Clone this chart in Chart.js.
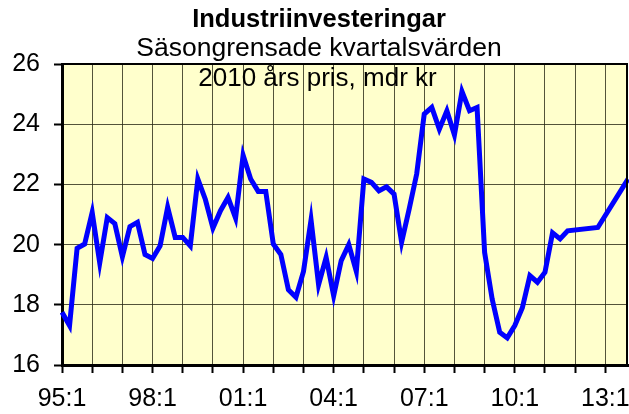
<!DOCTYPE html>
<html>
<head>
<meta charset="utf-8">
<script src="https://cdn.jsdelivr.net/npm/chart.js@4.4.1/dist/chart.umd.min.js"></script>
<style>
  html, body { margin: 0; padding: 0; background: #fff; }
  #wrap { width: 629px; height: 414px; }
</style>
</head>
<body>
<div id="wrap"><canvas id="investChart"></canvas></div>
<script>
// Quarterly values, 95:1 .. 13:4 (null = no point, line drawn straight across)
const investValues = [
    17.75, 17.31, 19.88, 20.02,  21.07, 19.39, 20.90, 20.70,  // 95, 96
    19.60, 20.60, 20.74, 19.67,  19.54, 19.96, 21.24, 20.24,  // 97, 98
    20.24, 19.96, 22.18, 21.50,  20.55, 21.13, 21.57, 20.88,  // 99, 00
    22.97, 22.18, 21.77, 21.77,  20.02, 19.67, 18.50, 18.25,  // 01, 02
    19.11, 20.82, 18.67, 19.58,  18.30, 19.47, 20.00, 19.11,  // 03, 04
    22.18, 22.07, 21.79, 21.92,  21.68, 20.08, 21.18, 22.35,  // 05, 06
    24.34, 24.56, 23.84, 24.45,  23.65, 25.09, 24.45, 24.56,  // 07, 08
    19.74, 18.19, 17.09, 16.90,  17.31, 17.90, 18.97, 18.75,  // 09, 10
    19.08, 20.39, 20.19, 20.46,  null, null, null, 20.57,     // 11, 12
    null, null, null, 22.18                                   // 13
];

const firstYear = 95;
const labelEvery = 12;   // a tick label every third year
const gridEvery = 4;     // a grid line every year

const quarterLabels = investValues.map(function (v, i) {
    const yr = (firstYear + Math.floor(i / 4)) % 100;
    return String(yr).padStart(2, '0') + ':' + (i % 4 + 1);
});

const titleText = 'Industriinvesteringar';
const subtitleText = 'Säsongrensade kvartalsvärden';
const unitText = '2010 års pris, mdr kr';

const fontFamily = "'Liberation Sans', Arial, Helvetica, sans-serif";

// yellow plot background, top/right frame and the unit line inside the plot
const plotDecor = {
    id: 'plotDecor',
    beforeDraw(chart) {
        const { ctx, chartArea: a } = chart;
        ctx.save();
        ctx.fillStyle = '#FFFFCC';
        ctx.fillRect(a.left, a.top, a.right - a.left, a.bottom - a.top);
        ctx.restore();
    },
    afterDatasetsDraw(chart) {
        const { ctx, chartArea: a } = chart;
        ctx.save();
        ctx.strokeStyle = '#000';
        ctx.lineWidth = 2;
        ctx.beginPath();
        ctx.moveTo(a.left, a.top);
        ctx.lineTo(a.right - 1, a.top);
        ctx.lineTo(a.right - 1, a.bottom);
        ctx.stroke();
        ctx.fillStyle = '#000';
        ctx.font = '26px ' + fontFamily;
        ctx.textAlign = 'center';
        ctx.textBaseline = 'middle';
        ctx.fillText(unitText, chart.width / 2 + 3, a.top + 15);
        ctx.restore();
    }
};

const gridColor = function (c) {
    return c.index % gridEvery === 0 ? 'rgba(40, 40, 20, 0.8)' : 'rgba(0,0,0,0)';
};

new Chart(document.getElementById('investChart'), {
    type: 'line',
    data: {
        labels: quarterLabels,
        datasets: [{
            data: investValues,
            borderColor: '#0000FF',
            borderWidth: 5,
            pointRadius: 0,
            tension: 0,
            spanGaps: true,
            fill: false
        }]
    },
    options: {
        responsive: true,
        maintainAspectRatio: false,
        animation: false,
        layout: { padding: { left: 10, right: 1, top: 0, bottom: 4 } },
        plugins: {
            legend: { display: false },
            tooltip: { enabled: false },
            title: {
                display: true,
                text: titleText,
                color: '#000',
                font: { family: fontFamily, size: 25.5, weight: 'bold', lineHeight: 1.2 },
                padding: { top: 5, bottom: 0 }
            },
            subtitle: {
                display: true,
                text: subtitleText,
                color: '#000',
                font: { family: fontFamily, size: 26.5, lineHeight: 1 },
                padding: { top: 0, bottom: 2 }
            }
        },
        scales: {
            x: {
                afterFit: function (scale) {
                    scale.height = 45;
                    scale.paddingLeft = 0;
                    scale.paddingRight = 0;
                },
                grid: {
                    color: gridColor,
                    tickColor: function (c) { return c.index % gridEvery === 0 ? '#000' : 'rgba(0,0,0,0)'; },
                    tickLength: 8,
                    tickWidth: 2,
                    lineWidth: 1
                },
                border: { color: '#000', width: 3 },
                ticks: {
                    autoSkip: false,
                    maxRotation: 0,
                    minRotation: 0,
                    padding: 11,
                    color: '#000',
                    font: { family: fontFamily, size: 25 },
                    callback: function (val, i) {
                        return i % labelEvery === 0 ? quarterLabels[i] : '';
                    }
                }
            },
            y: {
                min: 16,
                max: 26,
                afterFit: function (scale) {
                    scale.width = 52;
                },
                grid: {
                    color: 'rgba(40, 40, 20, 0.8)',
                    tickColor: '#000',
                    tickLength: 8,
                    tickWidth: 2,
                    lineWidth: 1
                },
                border: { color: '#000', width: 3 },
                ticks: {
                    stepSize: 2,
                    padding: 14,
                    color: '#000',
                    font: { family: fontFamily, size: 25 }
                }
            }
        }
    },
    plugins: [plotDecor]
});
</script>
</body>
</html>
